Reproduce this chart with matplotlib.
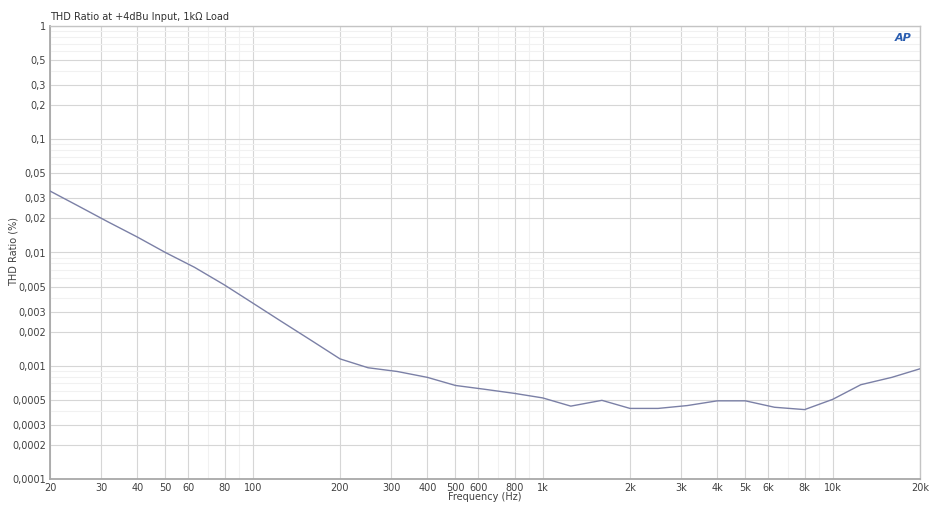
import matplotlib
matplotlib.use("Agg")
import matplotlib.pyplot as plt
from matplotlib.ticker import FixedLocator, NullFormatter

# 1/3-octave frequencies (Hz) and THD ratio (%)
freq_hz = [20, 25, 31.5, 40, 50, 63, 80, 100, 125, 160, 200, 250, 315, 400, 500,
           630, 800, 1000, 1250, 1600, 2000, 2500, 3150, 4000, 5000, 6300, 8000,
           10000, 12500, 16000, 20000]
thd_pct = [0.0349, 0.0258, 0.0188, 0.0137, 0.0100, 0.0074, 0.00516, 0.00358,
           0.00248, 0.00166, 0.00115, 0.00096, 0.00089, 0.00079, 0.00067,
           0.00062, 0.00057, 0.00052, 0.00044, 0.000495, 0.00042, 0.00042,
           0.000445, 0.00049, 0.00049, 0.00043, 0.00041, 0.000505, 0.00068,
           0.00079, 0.00094]

x_ticks = [20, 30, 40, 50, 60, 80, 100, 200, 300, 400, 500, 600, 800,
           1000, 2000, 3000, 4000, 5000, 6000, 8000, 10000, 20000]
x_labels = ["20", "30", "40", "50", "60", "80", "100", "200", "300", "400", "500",
            "600", "800", "1k", "2k", "3k", "4k", "5k", "6k", "8k", "10k", "20k"]
x_minor = [70, 90, 700, 900, 7000, 9000]

y_ticks = [1, 0.5, 0.3, 0.2, 0.1, 0.05, 0.03, 0.02, 0.01, 0.005, 0.003, 0.002,
           0.001, 0.0005, 0.0003, 0.0002, 0.0001]
y_labels = ["1", "0,5", "0,3", "0,2", "0,1", "0,05", "0,03", "0,02", "0,01",
            "0,005", "0,003", "0,002", "0,001", "0,0005", "0,0003", "0,0002", "0,0001"]
y_minor = [m * 10.0 ** e for e in range(-4, 0) for m in (4, 6, 7, 8, 9)]

fig = plt.figure(figsize=(9.41, 5.11), dpi=100)
ax = fig.add_axes([50 / 941, 1 - 479 / 511, 870 / 941, 453 / 511])

ax.plot(freq_hz, thd_pct, color="#7b80a6", lw=1.0, zorder=3)

ax.set_xscale("log")
ax.set_yscale("log")
ax.set_xlim(20, 20000)
ax.set_ylim(0.0001, 1)

ax.xaxis.set_major_locator(FixedLocator(x_ticks))
ax.set_xticklabels(x_labels)
ax.xaxis.set_minor_locator(FixedLocator(x_minor))
ax.xaxis.set_minor_formatter(NullFormatter())
ax.yaxis.set_major_locator(FixedLocator(y_ticks))
ax.set_yticklabels(y_labels)
ax.yaxis.set_minor_locator(FixedLocator(y_minor))
ax.yaxis.set_minor_formatter(NullFormatter())

ax.grid(which="major", color="#d6d6d6", lw=0.8)
ax.grid(which="minor", color="#f1f1f1", lw=0.8)
ax.tick_params(which="both", length=0, labelsize=7, colors="#404040", pad=3)

for side in ("left", "bottom"):
    ax.spines[side].set_color("#a8a8a8")
    ax.spines[side].set_linewidth(1.3)
for side in ("top", "right"):
    ax.spines[side].set_color("#c4c4c4")
    ax.spines[side].set_linewidth(1.0)

ax.set_xlabel("Frequency (Hz)", fontsize=7, color="#404040", labelpad=-1)
fig.text(14 / 941, 1 - 252 / 511, "THD Ratio (%)", fontsize=7, color="#404040",
         rotation=90, ha="center", va="center")
fig.text(50 / 941, 1 - 17 / 511, "THD Ratio at +4dBu Input, 1k\u03a9 Load",
         fontsize=7, color="#303030", va="center", ha="left")

# Audio Precision logo mark
fig.text(903 / 941, 1 - 38 / 511, "AP", fontsize=8, color="#2a5db0",
         fontweight="bold", style="italic", ha="center", va="center")

fig.savefig("out.png", dpi=100)
